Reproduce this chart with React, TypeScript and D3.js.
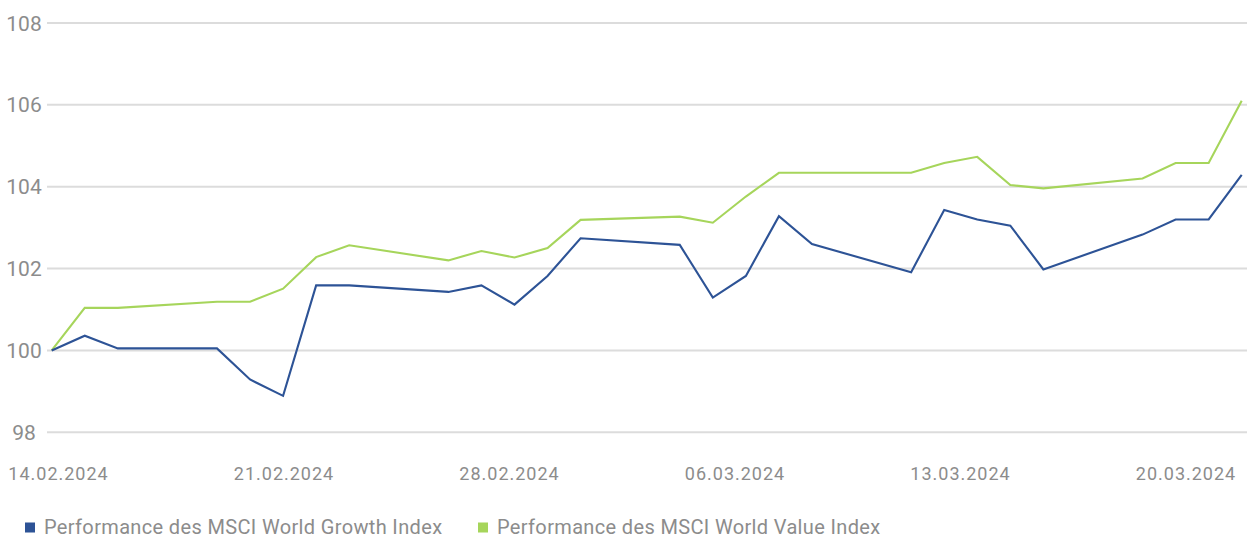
import React, { useMemo } from 'react';
import * as d3 from 'd3';

const dates = [
    '2024-02-14', '2024-02-15', '2024-02-16', '2024-02-19', '2024-02-20', '2024-02-21', '2024-02-22', '2024-02-23',
    '2024-02-26', '2024-02-27', '2024-02-28', '2024-02-29', '2024-03-01', '2024-03-04', '2024-03-05', '2024-03-06',
    '2024-03-07', '2024-03-08', '2024-03-11', '2024-03-12', '2024-03-13', '2024-03-14', '2024-03-15', '2024-03-18',
    '2024-03-19', '2024-03-20', '2024-03-21'
];

const growthValues = [
    100.0, 100.36, 100.05, 100.05, 99.29, 98.89, 101.59, 101.59,
    101.43, 101.59, 101.12, 101.82, 102.74, 102.58, 101.29, 101.82,
    103.28, 102.6, 101.91, 103.43, 103.2, 103.05, 101.98, 102.83,
    103.2, 103.2, 104.29
];

const valueValues = [
    100.0, 101.04, 101.04, 101.19, 101.19, 101.51, 102.28, 102.57,
    102.2, 102.43, 102.27, 102.5, 103.19, 103.27, 103.12, 103.76,
    104.34, 104.34, 104.34, 104.58, 104.73, 104.04, 103.96, 104.2,
    104.58, 104.58, 106.1
];

const xTickLabels = ['14.02.2024', '21.02.2024', '28.02.2024', '06.03.2024', '13.03.2024', '20.03.2024'];
const yTicks = [98, 100, 102, 104, 106, 108];

const seriesNames = ['Performance des MSCI World Growth Index', 'Performance des MSCI World Value Index'];
const seriesColors = ['#2d5396', '#a6d55b'];

const WIDTH = 1247;
const HEIGHT = 538;
const FONT = 'Roboto, "Noto Sans", sans-serif';
const TEXT_COLOR = '#8c8c8c';

export default function App() {
    const parsed = useMemo(() => dates.map(d => d3.timeParse('%Y-%m-%d')(d) as Date), []);

    const xScale = useMemo(() => d3.scaleTime()
        .domain(d3.extent(parsed) as [Date, Date])
        .range([51.7, 1241.7]), [parsed]);
    const yScale = d3.scaleLinear().domain([98, 108]).range([432.3, 23]);
    // tick labels sit on their own evenly spaced positions
    const labelScale = d3.scalePoint<string>().domain(xTickLabels).range([58.5, 1186]);

    const line = d3.line<number>()
        .x((_, i) => xScale(parsed[i]))
        .y(v => yScale(v));

    const series = [growthValues, valueValues];

    return (
        <div style={{ position: 'absolute', left: 0, top: 0 }}>
            <svg width={WIDTH} height={HEIGHT} style={{ display: 'block', background: '#fff' }}>
                <g>
                    {yTicks.map(t => (
                        <g key={`y-${t}`}>
                            <line x1={47} x2={WIDTH} y1={yScale(t)} y2={yScale(t)} stroke='#dcdcdc' strokeWidth={2} />
                            <text x={24} y={yScale(t) + 7.5} textAnchor='middle' fontFamily={FONT} fontSize={21} fill={TEXT_COLOR}>{t}</text>
                        </g>
                    ))}
                </g>
                <g>
                    {xTickLabels.map(l => (
                        <text key={l} x={labelScale(l)} y={479.5} textAnchor='middle' fontFamily={FONT} fontSize={18}
                            letterSpacing={1} fill={TEXT_COLOR}>{l}</text>
                    ))}
                </g>
                <g>
                    {series.map((s, i) => (
                        <path key={`line-${i}`} d={line(s) || ''} fill='none' stroke={seriesColors[i]}
                            strokeWidth={2.1} strokeLinejoin='miter' />
                    )).reverse()}
                </g>
                <g>
                    {seriesNames.map((n, i) => {
                        const x0 = i === 0 ? 25 : 478;
                        return (
                            <g key={n}>
                                <rect x={x0} y={522.5} width={10} height={10} fill={seriesColors[i]} />
                                <text x={x0 + 19} y={533.5} fontFamily={FONT} fontSize={20} letterSpacing={0.35}
                                    fill={TEXT_COLOR}>{n}</text>
                            </g>
                        );
                    })}
                </g>
            </svg>
        </div>
    );
}
